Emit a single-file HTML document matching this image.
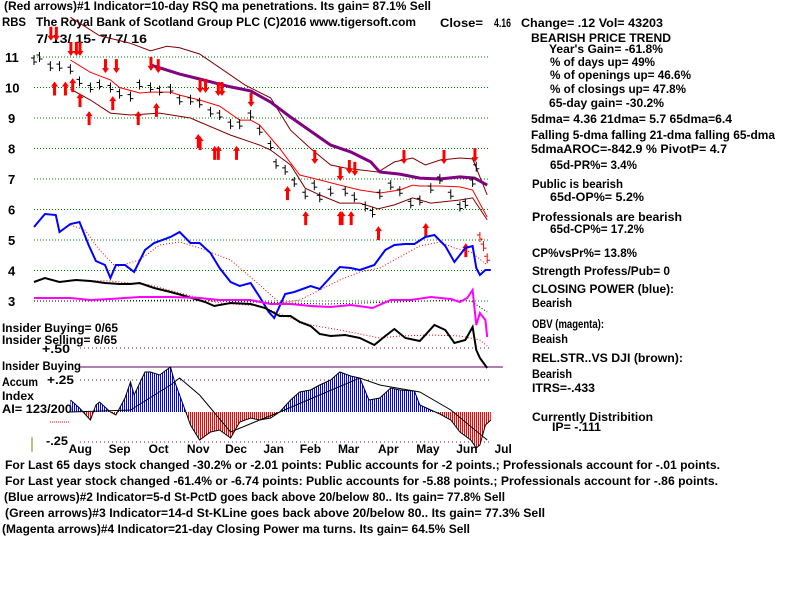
<!DOCTYPE html>
<html><head><meta charset="utf-8"><style>
body{margin:0;background:#fff;width:800px;height:600px;overflow:hidden}
svg{display:block;font-family:"Liberation Sans",sans-serif;font-weight:bold}
</style></head><body>
<svg id="chart" width="800" height="600" viewBox="0 0 800 600" xmlns="http://www.w3.org/2000/svg">
<defs>
<pattern id="pb" width="2" height="4" patternUnits="userSpaceOnUse"><rect width="1" height="4" fill="#0000ff"/></pattern>
<pattern id="pr" width="2" height="4" patternUnits="userSpaceOnUse"><rect width="1" height="4" fill="#ff0000"/></pattern>
<clipPath id="cpPos"><rect x="0" y="300" width="800" height="112"/></clipPath>
<clipPath id="cpNeg"><rect x="0" y="412" width="800" height="60"/></clipPath>
</defs>
<g id="texts" font-size="12" fill="#000"></g>
<g id="marks"></g>
</svg>
<script>
// ---- data ----
const priceTicks = [11,10,9,8,7,6,5,4,3];
const closeDays = [0,3,9,14,20,25,31,36,42,47,53,58,64,69,75,80,86,91,97,102,108,113,119,124,130,133,138,143,149,154,157,163,171,176,182,186,190,196,201,207,212,218,223,229,234,237,241,243];
const closeVals = [10.9,11.0,10.7,10.7,10.6,10.2,10.0,10.1,10.0,9.8,9.7,10.1,10.0,9.9,9.95,9.6,9.6,9.5,9.2,9.1,8.8,8.8,9.1,8.6,8.1,7.5,7.3,6.9,6.5,6.8,6.4,6.6,6.6,6.4,6.1,5.9,6.5,6.8,6.6,6.2,6.3,6.7,7.0,6.5,6.1,6.2,6.9,7.4];
const redBarDays = [245,247,249];
const redBarVals = [5.1,4.8,4.4];
const upperDays = [20,36,53,64,73,80,91,116,130,141,152,163,171,179,189,198,208,215,223,234,241,249];
const upperVals = [12.3,11.7,11.45,11.2,11.35,11.3,11.1,10.08,9.66,8.6,8.0,7.46,7.36,7.3,7.23,7.56,7.69,7.46,7.62,7.69,7.66,6.48];
const midDays = [20,31,42,47,58,64,75,80,91,102,113,119,124,135,146,157,168,179,190,201,208,212,223,234,241,249];
const midVals = [10.9,10.5,10.25,10.0,9.82,9.85,9.85,9.75,9.59,9.39,8.93,8.93,8.77,8.0,7.13,6.97,6.8,6.64,6.54,6.64,6.8,6.77,6.77,6.74,6.64,5.75];
const lowerDays = [20,31,42,53,69,86,91,108,124,130,141,149,157,168,179,189,198,208,218,234,241,249];
const lowerVals = [9.95,9.59,9.16,9.1,9.16,9.0,8.87,8.44,8.11,7.95,7.46,6.7,6.48,6.21,6.21,6.02,6.15,6.38,6.21,6.31,6.38,5.66];
const ma65Days = [64,80,91,108,119,130,141,152,163,174,185,190,201,212,223,234,242,249];
const ma65Vals = [10.74,10.44,10.28,10.02,9.89,9.52,9.03,8.57,8.11,7.89,7.56,7.23,7.16,7.03,7.0,7.07,7.03,6.8];
const downArrowDays = [9,12,20,23,25,39,45,64,68,91,94,101,103,119,154,168,173,176,203,225,242];
const downArrowVals = [11.73,11.73,11.23,11.23,11.23,10.67,10.67,10.74,10.67,10.02,10.02,9.92,9.92,9.56,7.69,7.13,7.36,7.3,7.69,7.69,7.75];
const upArrowDays = [11,17,21,25,30,43,57,67,90,91,99,101,111,139,149,168,169,174,189,215,237];
const upArrowVals = [10.0,10.0,10.11,9.62,9.03,9.52,9.03,9.3,8.28,8.21,7.89,7.89,7.89,6.57,5.75,5.75,5.75,5.75,5.26,5.36,4.7];
const cpDays = [0,6,12,14,20,25,30,34,39,42,45,50,55,61,66,75,80,86,91,97,102,108,113,119,124,129,132,138,143,152,157,163,168,174,179,187,193,198,204,209,215,220,226,231,237,241,243,245,248,251];
const cpVals = [173,186,185,168,176,178,155,139,135,122,135,135,128,150,157,163,168,157,157,147,132,118,114,117,103,88,82,106,108,114,111,123,133,132,130,135,150,155,156,156,163,165,154,138,152,154,132,125,130,130];
const cpMaDays = [20,28,36,45,58,69,80,91,108,124,135,146,157,168,179,190,201,212,223,231,240,249];
const cpMaVals = [175,170,150,133,140,155,158,152,140,115,97,100,110,120,128,132,143,154,158,152,148,135];
const rsDays = [0,6,14,23,31,39,47,53,58,66,75,83,94,99,108,119,127,135,141,146,152,157,163,171,179,187,193,198,204,212,220,226,231,237,241,243,245,249];
const rsVals = [118,122,118,120,119,117,116,116,117,112,108,104,98,94,97,96,92,84,84,78,74,66,64,65,62,55,64,71,62,59,75,70,57,60,73,50,42,32];
const rsMaDays = [20,42,64,80,102,124,141,152,168,190,201,218,234,245,249];
const rsMaVals = [120,119,115,107,97,94,82,75,70,62,64,65,64,60,54];
const obvDays = [0,9,20,31,42,58,75,91,102,119,130,141,152,163,174,186,196,207,218,229,234,238,241,243,245,248,249];
const obvVals = [102,102,102,100,101,103,103,102,100,100,96,96,94,93,95,92,100,100,103,101,98,102,110,75,87,80,63];
const obvMaDays = [0,40,80,120,160,200,230,240,249];
const obvMaVals = [99,99,100,98,96,98,100,99,88];
const aiDays = [20,25,31,34,36,42,45,50,53,55,61,64,69,75,77,83,86,91,97,102,108,113,119,124,130,135,141,146,152,157,163,168,174,179,184,190,196,201,209,212,218,223,229,234,240,243,245,248,251];
const aiVals = [12,4,-8,7,10,0,-3,14,30,17,40,40,37,45,32,2,-13,-28,-20,-18,-26,-10,-6,-8,-6,0,12,20,22,27,32,40,36,34,12,14,24,22,21,7,2,-2,-8,-20,-28,-36,-33,-13,-8];
const aiMaDays = [20,53,75,80,91,108,124,135,157,179,190,212,229,249];
const aiMaVals = [0,2,27,34,17,-20,-8,0,17,34,27,20,2,-28];
const monthLabels = ["Aug","Sep","Oct","Nov","Dec","Jan","Feb","Mar","Apr","May","Jun","Jul"];
const monthDays = [19,41,63,84,105,126,146,167,189,210,232,253];

// ---- scales ----
const xS = d => 34 + d*1.82;
const yP = p => 57 + (11-p)*30.5;
const yI = v => 400 - v;
const yA = v => 412 - v;
const NS="http://www.w3.org/2000/svg";
const marks=document.getElementById('marks');
function mk(tag,attrs,parent){const e=document.createElementNS(NS,tag);for(const k in attrs)e.setAttribute(k,attrs[k]);(parent||marks).appendChild(e);return e;}
function pts(ds,vs,ys){return ds.map((d,i)=>xS(d).toFixed(1)+','+ys(vs[i]).toFixed(1)).join(' ');}

priceTicks.forEach(p=>{
  const l=mk('line',{x1:34,x2:490,y1:yP(p),y2:yP(p),stroke:'#008000','stroke-dasharray':'1,2'});
  
  
  const t=mk('text',{x:p>=10?5:8,y:yP(p)+5,'font-size':13});
  t.textContent=p;
  
  
});
[[348,'ai-plus-50-line'],[380,'ai-plus-25-line'],[442,'ai-minus-25-line']].forEach(a=>{
  const l=mk('line',{x1:80,x2:490,y1:a[0],y2:a[0],stroke:'#800080','stroke-dasharray':'1,3'});
  
  
});
const hl=mk('line',{x1:80,x2:503,y1:367,y2:367,stroke:'#600060'});



function poly(ds,vs,ys,stroke,w,dash,name){
  const p=mk('polyline',{points:pts(ds,vs,ys),fill:'none',stroke:stroke,'stroke-width':w});
  if(dash)p.setAttribute('stroke-dasharray',dash);
  
  
}
poly(upperDays,upperVals,yP,'#800000',1,null,'upper-band');
poly(midDays,midVals,yP,'#ff0000',1,null,'21-day-ma');
poly(lowerDays,lowerVals,yP,'#800000',1,null,'lower-band');
poly(ma65Days,ma65Vals,yP,'#800080',3,null,'65-day-ma');
function bar(d,v,color){
  const x=xS(d),y=yP(v);
  const g=mk('path',{d:`M${x},${y-5}V${y+5}M${x-3},${y-2}H${x}M${x},${y+2}H${x+3}`,stroke:color,'stroke-width':1,fill:'none'});
  
  
}
closeDays.forEach((d,i)=>bar(d,closeVals[i],'#000'));
redBarDays.forEach((d,i)=>bar(d,redBarVals[i],'#ff0000'));
function arrow(d,v,down){
  const x=xS(d),y=yP(v);
  const p=down?`M${x-1},${y-8}h3v9h2l-3.5,5l-3.5,-5h2z`:`M${x-1},${y+8}h3v-9h2l-3.5,-5l-3.5,5h2z`;
  const a=mk('path',{d:p,fill:'#ff0000'});
  
  
}
downArrowDays.forEach((d,i)=>arrow(d,downArrowVals[i],true));
upArrowDays.forEach((d,i)=>arrow(d,upArrowVals[i],false));
poly(cpMaDays,cpMaVals,yI,'#ff0000',1,'1,2','closing-power-ma');
poly(rsMaDays,rsMaVals,yI,'#ff0000',1,'1,2','rel-strength-ma');
poly(obvMaDays,obvMaVals,yI,'#000',1,'1,2','obv-ma');
poly(cpDays,cpVals,yI,'#0000ff',2,null,'closing-power-line');
poly(rsDays,rsVals,yI,'#000000',2,null,'rel-strength-line');
poly(obvDays,obvVals,yI,'#ff00ff',2,null,'obv-line');
const aiPoly=pts(aiDays,aiVals,yA)+` ${xS(aiDays[aiDays.length-1])},412 ${xS(aiDays[0])},412`;
const ap=mk('polygon',{points:aiPoly,fill:'url(#pb)','clip-path':'url(#cpPos)'});


const an=mk('polygon',{points:aiPoly,fill:'url(#pr)','clip-path':'url(#cpNeg)'});


poly(aiDays,aiVals,yA,'#000',1,null,'ai-outline');
poly(aiMaDays,aiMaVals,yA,'#000',1,null,'ai-moving-average');
monthLabels.forEach((m,i)=>{
  const t=mk('text',{x:xS(monthDays[i]),y:453,'font-size':12});
  t.textContent=m;
  
  
});

const T=document.getElementById('texts');
const lines=[
[4,10,427,'(Red arrows)#1 Indicator=10-day RSQ ma penetrations. Its gain= 87.1% Sell','indicator-1-title'],
[2,26,24,'RBS','ticker'],
[36,26,380,'The Royal Bank of Scotland Group PLC  (C)2016 www.tigersoft.com','company-title'],
[440,27,43,'Close=','close-label'],
[494,27,17,'4.16','close-value'],
[521,27,142,'Change= .12 Vol= 43203','change-volume'],
[36,43,111,'7/ 13/ 15- 7/ 7/ 16','date-range'],
[531,42,140,'BEARISH PRICE TREND','trend-title'],
[549,53,114,"Year's Gain= -61.8%",'years-gain'],
[550,66,105,'% of days up= 49%','days-up'],
[550,79,141,'% of openings up= 46.6%','openings-up'],
[550,93,136,'% of closings up= 47.8%','closings-up'],
[549,107,115,'65-day gain= -30.2%','65-day-gain'],
[531,123,201,'5dma= 4.36 21dma= 5.7 65dma=6.4','dma-values'],
[531,139,244,'Falling 5-dma  falling 21-dma  falling 65-dma','dma-direction'],
[531,153,196,'5dmaAROC=-842.9 %  PivotP= 4.7','aroc-pivot'],
[550,169,87,'65d-PR%= 3.4%','65d-pr'],
[532,188,91,'Public is bearish','public-status'],
[550,201,94,'65d-OP%= 5.2%','65d-op'],
[532,221,150,'Professionals are bearish','professionals-status'],
[550,233,94,'65d-CP%= 17.2%','65d-cp'],
[532,257,105,'CP%vsPr%=  13.8%','cp-vs-pr'],
[532,275,138,'Strength Profess/Pub= 0','strength-ratio'],
[532,293,142,'CLOSING POWER (blue):','closing-power-label'],
[532,307,40,'Bearish','closing-power-status'],
[532,328,72,'OBV (magenta):','obv-label'],
[532,343,36,'Beaish','obv-status'],
[532,362,151,'REL.STR..VS DJI (brown):','rel-str-label'],
[532,378,40,'Bearish','rel-str-status'],
[532,392,63,'ITRS=-.433','itrs-value'],
[532,421,121,'Currently Distribition','distribution-status'],
[552,431,49,'IP= -.111','ip-value'],
[2,332,116,'Insider Buying= 0/65','insider-buying-count'],
[2,344,115,'Insider Selling= 6/65','insider-selling-count'],
[42,353,28,'+.50','ai-plus-50-label'],
[2,370,79,'Insider Buying','insider-buying-label'],
[2,386,36,'Accum','accum-label'],
[47,384,27,'+.25','ai-plus-25-label'],
[2,400,32,'Index','index-label'],
[2,413,70,'AI= 123/200','ai-value'],
[46,445,22,'-.25','ai-minus-25-label'],
[5,469,715,'For Last 65 days stock changed -30.2% or -2.01 points:  Public accounts for -2 points.;  Professionals account for -.01 points.','last-65-days-summary'],
[5,485,713,'For Last year stock changed -61.4% or -6.74 points:  Public accounts for -5.88 points.;  Professionals account for -.86 points.','last-year-summary'],
[4,501,501,'(Blue arrows)#2 Indicator=5-d St-PctD goes back above 20/below 80.. Its gain= 77.8% Sell','indicator-2-title'],
[5,517,540,'(Green arrows)#3 Indicator=14-d St-KLine goes back above 20/below 80.. Its gain= 77.3% Sell','indicator-3-title'],
[2,533,468,'(Magenta arrows)#4 Indicator=21-day Closing Power ma turns. Its gain= 64.5% Sell','indicator-4-title']
];
lines.forEach(l=>{
  const t=mk('text',{x:l[0],y:l[1],textLength:l[2],lengthAdjust:'spacingAndGlyphs'},T);
  t.textContent=l[3];
  
  
});
const rl=mk('line',{x1:50,x2:70,y1:422,y2:422,stroke:'#ff0000','stroke-dasharray':'1,1'});


const ol=mk('line',{x1:32,x2:32,y1:437,y2:452,stroke:'#808000'});


</script>
</body></html>
